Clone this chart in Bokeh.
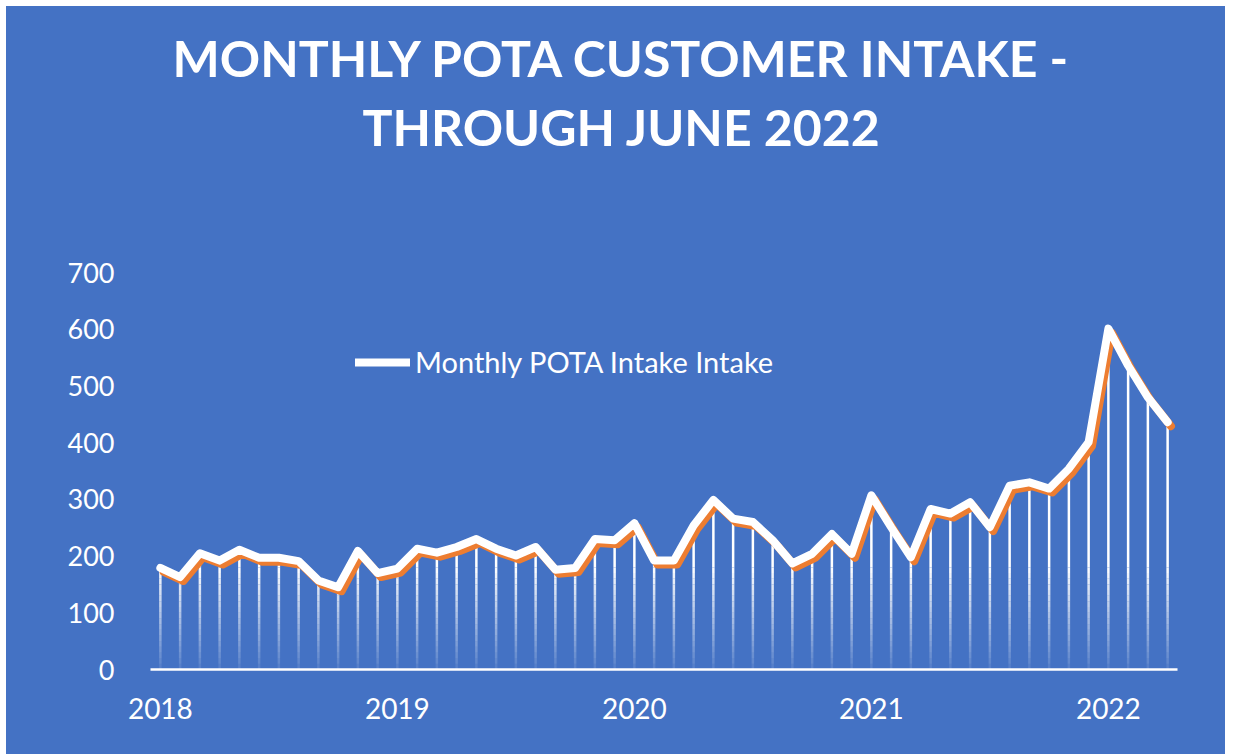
import numpy as np
from bokeh.plotting import figure
from bokeh.models import (Range1d, FixedTicker, Title, Legend, LegendItem,
                          ColumnDataSource)
from bokeh.transform import dodge
from bokeh.embed import file_html
from bokeh.resources import INLINE

# ---- data (monthly intake, Jan 2018 .. Apr 2022) ----
values = [179, 163, 205, 192, 211, 197, 197, 191, 157, 145, 209, 170,
          178, 213, 206, 216, 230, 213, 201, 216, 176, 179, 230, 228,
          258, 192, 192, 254, 299, 266, 260, 228, 187, 204, 239, 204,
          307, 251, 198, 283, 275, 295, 251, 324, 330, 319, 354, 401,
          601, 536, 480, 436]
months = list(range(len(values)))          # month index from Jan 2018
year_ticks = [0, 12, 24, 36, 48]
year_labels = ["2018", "2019", "2020", "2021", "2022"]
y_ticks = [0, 100, 200, 300, 400, 500, 600, 700]

title_line1 = "MONTHLY POTA CUSTOMER INTAKE -"
title_line2 = "THROUGH JUNE 2022"
legend_label = "Monthly POTA Intake Intake"

BLUE = "#4472C4"
ORANGE = "#ED7D31"
FONT = "Lato"

src = ColumnDataSource(dict(m=months, v=values))

# drop lines with a fading (gradient-like) bottom part
edges = list(range(0, 190, 10))
sx, slo, shi, sa = [], [], [], []
for m, v in zip(months, values):
    for lo, hi in zip(edges[:-1], edges[1:]):
        if v <= lo:
            break
        sx.append(m); slo.append(lo); shi.append(min(hi, v))
        sa.append(0.08 + 0.92 * ((lo + hi) / 2) / edges[-1])
    if v > edges[-1]:
        sx.append(m); slo.append(edges[-1]); shi.append(v); sa.append(1.0)
seg_src = ColumnDataSource(dict(m=sx, lo=slo, hi=shi, a=sa))

# frame extends above the 700 tick (invisible), 700 sits at the same place
frame_top_px, zero_px, top_tick_px = 160, 669, 272
y_top = y_ticks[-1] * (zero_px - frame_top_px) / (zero_px - top_tick_px)

p = figure(width=1219, height=748, output_backend="svg", toolbar_location=None,
           x_range=Range1d(-0.5, len(values) - 0.5), y_range=Range1d(0, y_top),
           background_fill_color=None, border_fill_color=None,
           outline_line_color=None,
           min_border_left=144, min_border_right=48,
           min_border_top=frame_top_px - 6, min_border_bottom=85,
           title=title_line1)
p.margin = (6, 10, 0, 6)
p.styles = {"background-color": BLUE}

p.title.text_color = "white"
p.title.text_font = FONT
p.title.text_font_style = "bold"
p.title.text_font_size = "50px"
p.title.align = "left"
p.title.offset = 22
p.title.standoff = 7

t2 = Title(text=title_line2, text_color="white", text_font=FONT,
           text_font_style="bold", text_font_size="50px", align="left",
           offset=212, standoff=7)
p.add_layout(t2, "above")

p.grid.visible = False

p.yaxis.ticker = FixedTicker(ticks=y_ticks)
p.yaxis.axis_line_color = None
p.yaxis.major_tick_line_color = None
p.yaxis.minor_tick_line_color = None
p.yaxis.major_label_text_color = "white"
p.yaxis.major_label_text_font = FONT
p.yaxis.major_label_text_font_size = "27px"
p.yaxis.major_label_standoff = 30

p.xaxis.ticker = FixedTicker(ticks=year_ticks)
p.xaxis.major_label_overrides = dict(zip(year_ticks, year_labels))
p.xaxis.axis_line_color = "white"
p.xaxis.axis_line_width = 2.5
p.xaxis.major_tick_line_color = None
p.xaxis.minor_tick_line_color = None
p.xaxis.major_label_text_color = "white"
p.xaxis.major_label_text_font = FONT
p.xaxis.major_label_text_font_size = "28px"
p.xaxis.major_label_standoff = 22

p.segment(x0="m", y0="lo", x1="m", y1="hi", source=seg_src,
          line_color="white", line_alpha="a", line_width=2.5)

p.line(x=dodge("m", 0.17), y=dodge("v", -7), source=src,
       line_color=ORANGE, line_width=8, line_join="round", line_cap="round")
main = p.line(x="m", y="v", source=src, line_color="white", line_width=8,
              line_join="round", line_cap="round")

legend = Legend(items=[LegendItem(label=legend_label, renderers=[main])],
                location=(205, 290), glyph_width=55, glyph_height=30,
                label_standoff=5, padding=0, margin=0, spacing=0,
                label_text_color="white", label_text_font=FONT,
                label_text_font_size="29px",
                background_fill_alpha=0, border_line_alpha=0)
p.add_layout(legend)

open("out.html", "w").write(file_html(p, INLINE))
